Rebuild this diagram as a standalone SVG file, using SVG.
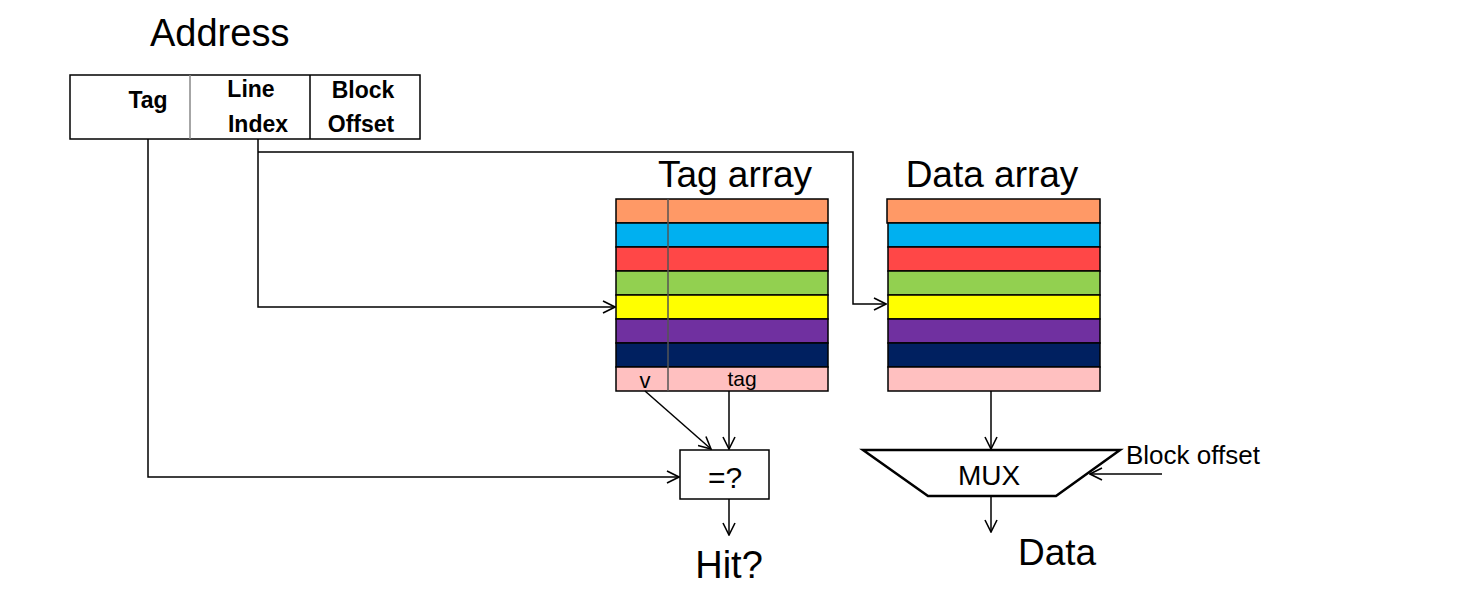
<svg xmlns="http://www.w3.org/2000/svg" width="1471" height="591" viewBox="0 0 1471 591">
<defs>
<marker id="arr" viewBox="0 0 14 14" refX="13" refY="7" markerWidth="14" markerHeight="14" markerUnits="userSpaceOnUse" orient="auto">
<path d="M1,1 L13,7 L1,13" fill="none" stroke="#000" stroke-width="1.6"/>
</marker>
<style>
.t{font-family:"Liberation Sans",Arial,sans-serif;fill:#000}
.b{font-family:"Liberation Sans",Arial,sans-serif;font-weight:bold;font-size:23px;fill:#000}
.row{stroke:#000;stroke-width:1.5}
.c{fill:none;stroke:#000;stroke-width:1.5}
</style>
</defs>
<rect width="1471" height="591" fill="#fff"/>
<text class="t" x="150" y="46" font-size="38">Address</text>
<g id="address">
<rect x="70" y="75" width="350" height="64" fill="#fff" stroke="#000" stroke-width="1.5"/>
<line x1="190" y1="75" x2="190" y2="139" stroke="#888" stroke-width="1.5"/>
<line x1="310" y1="75" x2="310" y2="139" stroke="#000" stroke-width="1.5"/>
<text class="b" x="148" y="108" text-anchor="middle">Tag</text>
<text class="b" x="251" y="97" text-anchor="middle">Line</text>
<text class="b" x="258" y="132" text-anchor="middle">Index</text>
<text class="b" x="363" y="98" text-anchor="middle">Block</text>
<text class="b" x="361" y="132" text-anchor="middle">Offset</text>
</g>
<g id="tag-array">
<text class="t" x="735" y="187" font-size="37" text-anchor="middle">Tag array</text>
<rect class="row" x="616" y="199" width="212" height="24" fill="#FF9966"/>
<rect class="row" x="616" y="223" width="212" height="24" fill="#00B0F0"/>
<rect class="row" x="616" y="247" width="212" height="24" fill="#FF4747"/>
<rect class="row" x="616" y="271" width="212" height="24" fill="#92D050"/>
<rect class="row" x="616" y="295" width="212" height="24" fill="#FFFF00"/>
<rect class="row" x="616" y="319" width="212" height="24" fill="#7030A0"/>
<rect class="row" x="616" y="343" width="212" height="24" fill="#002060"/>
<rect class="row" x="616" y="367" width="212" height="24" fill="#FFC0C0"/>
<line x1="668" y1="199" x2="668" y2="391" stroke="#555" stroke-width="1.5"/>
<text class="t" x="645" y="388" font-size="22" text-anchor="middle">v</text>
<text class="t" x="742" y="386" font-size="21" text-anchor="middle">tag</text>
</g>
<g id="data-array">
<text class="t" x="992" y="187" font-size="37" text-anchor="middle">Data array</text>
<rect class="row" x="887" y="199" width="213" height="24" fill="#FF9966"/>
<rect class="row" x="888" y="223" width="212" height="24" fill="#00B0F0"/>
<rect class="row" x="888" y="247" width="212" height="24" fill="#FF4747"/>
<rect class="row" x="888" y="271" width="212" height="24" fill="#92D050"/>
<rect class="row" x="888" y="295" width="212" height="24" fill="#FFFF00"/>
<rect class="row" x="888" y="319" width="212" height="24" fill="#7030A0"/>
<rect class="row" x="888" y="343" width="212" height="24" fill="#002060"/>
<rect class="row" x="888" y="367" width="212" height="24" fill="#FFC0C0"/>
</g>
<g id="compare">
<rect x="680" y="450" width="89" height="49" fill="#fff" stroke="#000" stroke-width="1.5"/>
<text class="t" x="725" y="488" font-size="30" text-anchor="middle">=?</text>
</g>
<g id="mux">
<polygon points="863,450 1120,450 1056,496 928,496" fill="#fff" stroke="#000" stroke-width="2.5"/>
<text class="t" x="989" y="485" font-size="28" text-anchor="middle">MUX</text>
</g>
<text class="t" x="729" y="578" font-size="38" text-anchor="middle">Hit?</text>
<text class="t" x="1057" y="565" font-size="37" text-anchor="middle">Data</text>
<text class="t" x="1126" y="464" font-size="26">Block offset</text>
<g id="connectors">
<polyline class="c" points="148,139 148,477 679,477" marker-end="url(#arr)"/>
<polyline class="c" points="258,139 258,307 615,307" marker-end="url(#arr)"/>
<polyline class="c" points="258,152 853,152 853,304 886,304" marker-end="url(#arr)" stroke="#333"/>
<line class="c" x1="645" y1="391" x2="711" y2="449" marker-end="url(#arr)"/>
<line class="c" x1="729" y1="391" x2="729" y2="449" marker-end="url(#arr)"/>
<line class="c" x1="729" y1="499" x2="729" y2="535" marker-end="url(#arr)"/>
<line class="c" x1="991" y1="391" x2="991" y2="449" marker-end="url(#arr)"/>
<line class="c" x1="1162" y1="474" x2="1090" y2="474" marker-end="url(#arr)"/>
<line class="c" x1="991" y1="496" x2="991" y2="532" marker-end="url(#arr)"/>
</g>
</svg>
